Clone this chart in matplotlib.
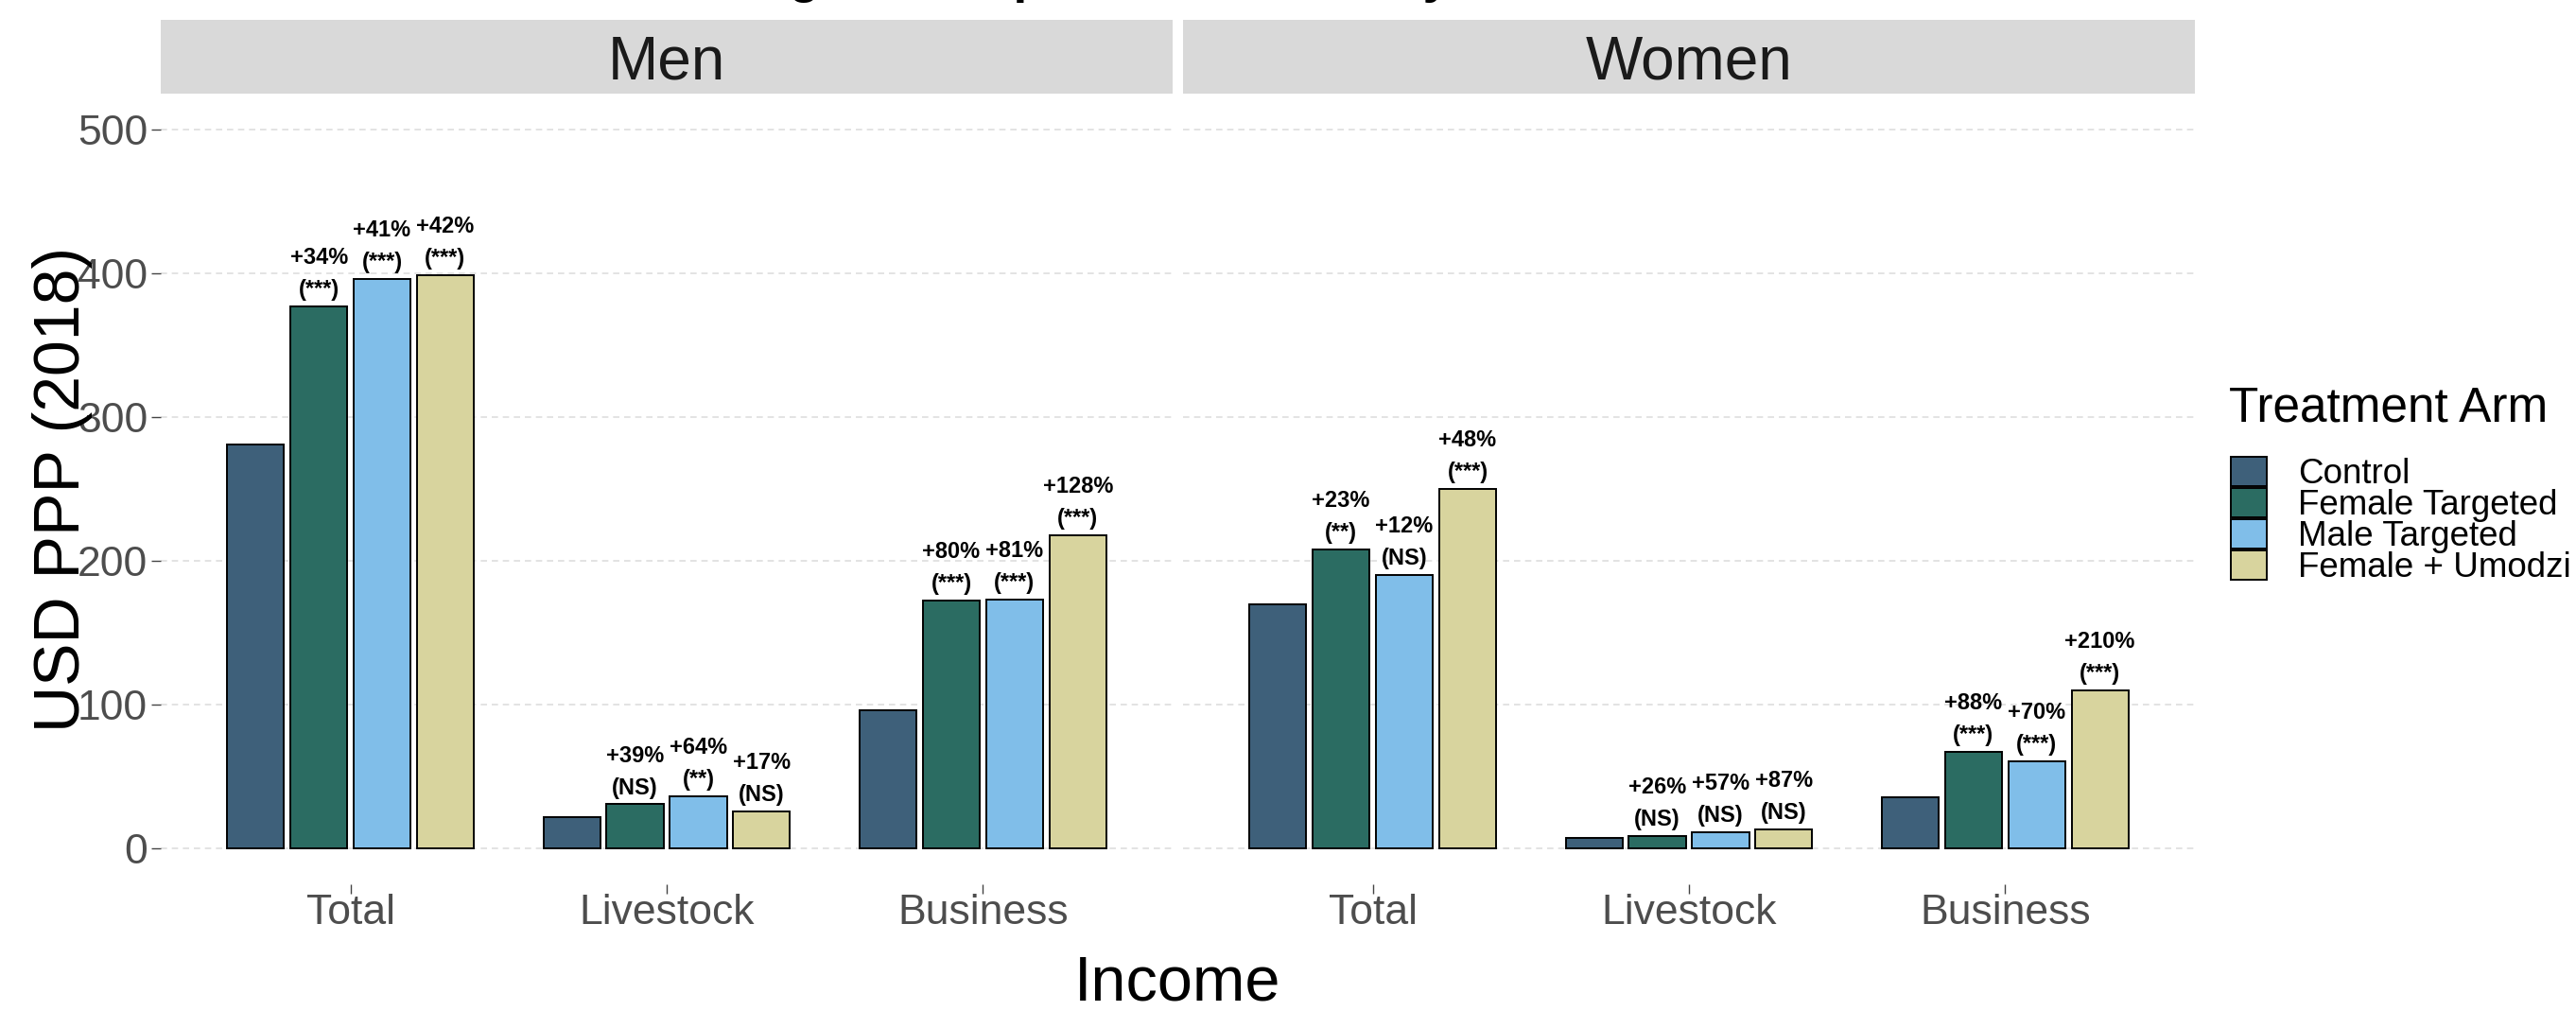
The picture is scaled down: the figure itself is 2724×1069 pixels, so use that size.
import numpy as np
import matplotlib
matplotlib.use('Agg')
import matplotlib.pyplot as plt
from matplotlib.patches import Patch

plt.rcParams['font.family'] = ['Liberation Sans', 'DejaVu Sans']

arms = ['Control', 'Female Targeted', 'Male Targeted', 'Female + Umodzi']
categories = ['Total', 'Livestock', 'Business']
panels = ['Men', 'Women']

# values in USD PPP (2018), one list per arm: Total, Livestock, Business
men_control = [281, 22, 96]
men_female = [377, 30.6, 172.5]
men_male = [396, 36.1, 173]
men_umodzi = [399, 25.7, 218]

women_control = [170, 7, 35.5]
women_female = [208, 8.8, 67]
women_male = [190, 11, 60.5]
women_umodzi = [250, 13.1, 110]

# percent change vs control and significance, per treated arm
men_pct = [['+34%', '+41%', '+42%'], ['+39%', '+64%', '+17%'], ['+80%', '+81%', '+128%']]
men_sig = [['(***)', '(***)', '(***)'], ['(NS)', '(**)', '(NS)'], ['(***)', '(***)', '(***)']]
women_pct = [['+23%', '+12%', '+48%'], ['+26%', '+57%', '+87%'], ['+88%', '+70%', '+210%']]
women_sig = [['(**)', '(NS)', '(***)'], ['(NS)', '(NS)', '(NS)'], ['(***)', '(***)', '(***)']]

colors = ['#3E607A', '#2B6C62', '#80BEE9', '#D8D49E']

W, H = 2724, 1069
fig = plt.figure(figsize=(W / 100, H / 100), dpi=100)

panel_left = [170, 1251]
panel_w = 1070
panel_top, panel_bot = 99, 935
strip_top = 21

data = {
    'Men': ([men_control, men_female, men_male, men_umodzi], men_pct, men_sig),
    'Women': ([women_control, women_female, women_male, women_umodzi], women_pct, women_sig),
}

x = np.arange(len(categories))
bar_w = 0.18
for k, name in enumerate(panels):
    ax = fig.add_axes([panel_left[k] / W, 1 - panel_bot / H, panel_w / W, (panel_bot - panel_top) / H])
    vals, pct, sig = data[name]
    for j in range(len(arms)):
        xs = x + (j - 1.5) * 0.2
        ax.bar(xs, vals[j], width=bar_w, color=colors[j], edgecolor='black', linewidth=1.4, zorder=3)
        if j == 0:
            continue
        for i in range(len(categories)):
            ax.annotate(sig[i][j - 1], (xs[i], vals[j][i]), xytext=(0, 12.5), textcoords='offset points',
                        ha='center', va='center', fontsize=17, fontweight='bold')
            ax.annotate(pct[i][j - 1], (xs[i], vals[j][i]), xytext=(0, 37), textcoords='offset points',
                        ha='center', va='center', fontsize=17, fontweight='bold')
    ax.set_xlim(-0.6, 2.6)
    ax.set_ylim(-25, 525)
    ax.set_yticks([0, 100, 200, 300, 400, 500])
    ax.set_xticks(x)
    ax.set_xticklabels(categories, fontsize=32, color='#4D4D4D')
    ax.yaxis.grid(True, linestyle=(0, (4, 3)), color='#DEDEDE', linewidth=1.2)
    ax.set_axisbelow(True)
    for s in ax.spines.values():
        s.set_visible(False)
    ax.tick_params(axis='x', length=7, width=1, color='#444444', pad=0)
    if k == 0:
        ax.tick_params(axis='y', length=7, width=1, color='#444444', pad=3, labelsize=32, labelcolor='#4D4D4D')
    else:
        ax.tick_params(axis='y', length=0, labelleft=False)

    strip = fig.add_axes([panel_left[k] / W, 1 - panel_top / H, panel_w / W, (panel_top - strip_top) / H])
    strip.set_facecolor('#D9D9D9')
    strip.set_xticks([])
    strip.set_yticks([])
    for s in strip.spines.values():
        s.set_visible(False)
    strip.text(0.5, 0.42, name, ha='center', va='center', fontsize=46, color='#1A1A1A', transform=strip.transAxes)

fig.text(1212 / W, 1 + 8 / H, 'Average Net Impact on Income by Gender', ha='center', va='baseline',
         fontsize=38, fontweight='bold')
fig.text(66 / W, 1 - 517 / H, 'USD PPP (2018)', rotation=90, ha='center', va='center', fontsize=49)
fig.text(1245 / W, 1 - 1040 / H, 'Income', ha='center', va='center', fontsize=48)

fig.text(2357 / W, 1 - 432 / H, 'Treatment Arm', ha='left', va='center', fontsize=37)
handles = [Patch(facecolor=c, edgecolor='black', linewidth=1.4) for c in colors]
leg = fig.legend(handles, arms, loc='upper left', bbox_to_anchor=(2359 / W, 1 - 483 / H), frameon=False,
                 fontsize=26.5, handlelength=1.03, handleheight=0.9, labelspacing=-0.08,
                 handletextpad=0.9, borderaxespad=0, borderpad=0)

fig.savefig('out.png', dpi=100)
